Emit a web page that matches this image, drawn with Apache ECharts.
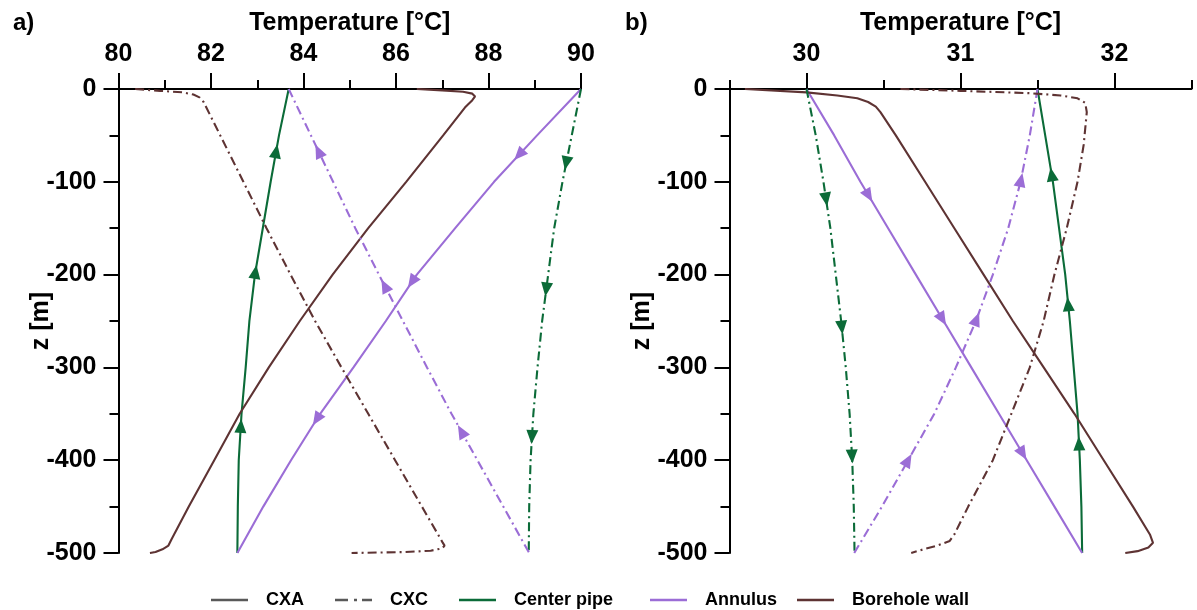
<!DOCTYPE html>
<html><head><meta charset="utf-8">
<script src="https://cdn.jsdelivr.net/npm/echarts@6/dist/echarts.min.js"></script>
<style>html,body{margin:0;padding:0;background:#fff}#c{width:1197px;height:610px}</style>
</head><body><div id="c"></div><script>
// ---------- data ----------
const depthZ = [0,-50,-100,-150,-200,-250,-300,-350,-400,-450,-500];
// Panel a
const aCxaCenterT  = [83.68,83.47,83.29,83.12,82.95,82.83,82.75,82.66,82.60,82.58,82.57];
const aCxaAnnulusT = [90.00,89.05,88.12,87.28,86.45,85.78,85.08,84.36,83.73,83.13,82.57];
const aCxcCenterT  = [90.00,89.80,89.60,89.42,89.29,89.16,89.06,88.97,88.91,88.88,88.87];
const aCxcAnnulusT = [83.68,84.16,84.64,85.12,85.63,86.15,86.67,87.20,87.76,88.32,88.88];
const aCxaWallZ = [0,-1.5,-3,-5,-8,-12,-20,-50,-100,-150,-200,-250,-300,-350,-400,-450,-485,-492,-496,-499,-500];
const aCxaWallT = [86.45,87.0,87.45,87.65,87.71,87.65,87.49,87.02,86.22,85.40,84.63,83.92,83.25,82.62,82.07,81.52,81.15,81.08,80.95,80.80,80.68];
const aCxcWallZ = [0,-2,-3.6,-6,-9,-14,-50,-100,-150,-200,-250,-300,-350,-400,-450,-488,-492,-495,-497.5,-499,-500];
const aCxcWallT = [80.36,80.90,81.38,81.62,81.75,81.84,82.20,82.70,83.20,83.72,84.25,84.82,85.40,85.98,86.56,87.00,87.05,87.00,86.75,86.20,85.04];
// Panel b
const bCxaCenterT  = [31.50,31.55,31.60,31.64,31.68,31.71,31.735,31.76,31.775,31.785,31.79];
const bCxaAnnulusT = [30.00,30.18,30.35,30.53,30.71,30.89,31.07,31.25,31.43,31.61,31.79];
const bCxcCenterT  = [30.00,30.06,30.11,30.155,30.19,30.225,30.255,30.28,30.297,30.307,30.312];
const bCxcAnnulusT = [31.50,31.45,31.39,31.31,31.21,31.10,30.97,30.83,30.66,30.49,30.31];
const bCxaWallZ = [0,-3.6,-7,-10,-14,-19,-25,-50,-100,-150,-200,-250,-300,-350,-400,-450,-480,-489,-494,-498,-500];
const bCxaWallT = [29.60,30.00,30.20,30.33,30.40,30.45,30.48,30.58,30.77,30.96,31.15,31.34,31.54,31.74,31.93,32.12,32.23,32.25,32.22,32.15,32.07];
const bCxcWallZ = [0,-2,-4.5,-7,-10,-15,-25,-60,-100,-150,-200,-250,-300,-350,-400,-450,-480,-487,-492,-496,-500];
const bCxcWallT = [30.61,31.00,31.45,31.65,31.76,31.81,31.82,31.80,31.76,31.69,31.61,31.54,31.45,31.33,31.21,31.05,30.96,30.93,30.85,30.76,30.68];
// arrow depths (flow direction markers)
const aCxaCenterArrows  = [-67,-197,-363];
const aCxaAnnulusArrows = [-71,-208,-356];
const aCxcCenterArrows  = [-80,-216,-375];
const aCxcAnnulusArrows = [-67,-212,-369];
const bCxaCenterArrows  = [-92,-232,-382];
const bCxaAnnulusArrows = [-115,-248,-393];
const bCxcCenterArrows  = [-119,-257,-396];
const bCxcAnnulusArrows = [-98,-248,-400];
// axis ticks
const bTempTicks = [30,31,32];
const legendNames = ['CXA','CXC','Center pipe','Annulus','Borehole wall'];

// ---------- style ----------
const GREEN = '#0b6b38', PURPLE = '#9b6dd6', BROWN = '#5e3333', GRAY = '#595959';
const DASHDOT = [9,4,2,4];
const FONT = 'Liberation Sans, Arial, sans-serif';
const chart = echarts.init(document.getElementById('c'), null, {renderer:'canvas'});

function pairs(T, Z){ return T.map((t,i)=>[t, Z[i]]); }
function interp(T, Z, z){
  for (let i=0;i<Z.length-1;i++){
    if (z<=Z[i] && z>=Z[i+1]){ const f=(Z[i]-z)/(Z[i]-Z[i+1]); return T[i]+f*(T[i+1]-T[i]); }
  }
  return T[T.length-1];
}
const curves = [
  {p:0, T:aCxaCenterT,  Z:depthZ, color:GREEN,  dash:'solid', arrows:aCxaCenterArrows,  up:true},
  {p:0, T:aCxaAnnulusT, Z:depthZ, color:PURPLE, dash:'solid', arrows:aCxaAnnulusArrows, up:false},
  {p:0, T:aCxaWallT,    Z:aCxaWallZ, color:BROWN, dash:'solid'},
  {p:0, T:aCxcCenterT,  Z:depthZ, color:GREEN,  dash:DASHDOT, arrows:aCxcCenterArrows,  up:false},
  {p:0, T:aCxcAnnulusT, Z:depthZ, color:PURPLE, dash:DASHDOT, arrows:aCxcAnnulusArrows, up:true},
  {p:0, T:aCxcWallT,    Z:aCxcWallZ, color:BROWN, dash:DASHDOT},
  {p:1, T:bCxaCenterT,  Z:depthZ, color:GREEN,  dash:'solid', arrows:bCxaCenterArrows,  up:true},
  {p:1, T:bCxaAnnulusT, Z:depthZ, color:PURPLE, dash:'solid', arrows:bCxaAnnulusArrows, up:false},
  {p:1, T:bCxaWallT,    Z:bCxaWallZ, color:BROWN, dash:'solid'},
  {p:1, T:bCxcCenterT,  Z:depthZ, color:GREEN,  dash:DASHDOT, arrows:bCxcCenterArrows,  up:false},
  {p:1, T:bCxcAnnulusT, Z:depthZ, color:PURPLE, dash:DASHDOT, arrows:bCxcAnnulusArrows, up:true},
  {p:1, T:bCxcWallT,    Z:bCxcWallZ, color:BROWN, dash:DASHDOT}
];

const blk = {color:'#000', width:2};
const labelStyle = {fontSize:25, fontWeight:'bold', color:'#000', fontFamily:FONT};
function yAx(g, name, gap){
  return {gridIndex:g, type:'value', min:-500, max:0, interval:100,
    axisLine:{show:true, onZero:false, lineStyle:blk},
    axisTick:{show:true, length:15, lineStyle:blk},
    minorTick:{show:true, splitNumber:2, length:9, lineStyle:blk},
    splitLine:{show:false}, minorSplitLine:{show:false},
    axisLabel:Object.assign({margin:22}, labelStyle),
    name:name, nameLocation:'middle', nameGap:gap, nameRotate:90, nameMoveOverlap:false,
    nameTextStyle:labelStyle};
}
const grids = [
  {left:118.5, top:89, width:462.5, height:464},
  {left:729.5, top:89, width:462, height:464},
  {left:729.5, top:89, width:462, height:464}
];
const xAxes = [
  {gridIndex:0, type:'value', position:'top', min:80, max:90, interval:2,
   axisLine:{onZero:false, lineStyle:blk}, axisTick:{length:16, lineStyle:blk},
   minorTick:{show:true, splitNumber:2, length:9, lineStyle:blk},
   splitLine:{show:false}, minorSplitLine:{show:false},
   axisLabel:Object.assign({margin:22}, labelStyle),
   name:'Temperature [°C]', nameLocation:'middle', nameGap:53, nameMoveOverlap:false, nameTextStyle:labelStyle},
  {gridIndex:1, type:'value', position:'top', min:29.5, max:32.5, interval:0.5,
   axisLine:{onZero:false, lineStyle:blk}, axisTick:{length:9, lineStyle:blk},
   splitLine:{show:false}, axisLabel:{show:false}},
  {gridIndex:2, type:'value', position:'top', min:29.5, max:32.5, interval:0.5,
   axisLine:{show:false, onZero:false}, axisTick:{length:16, lineStyle:blk, customValues:bTempTicks},
   splitLine:{show:false},
   axisLabel:Object.assign({margin:22, customValues:bTempTicks}, labelStyle),
   name:'Temperature [°C]', nameLocation:'middle', nameGap:53, nameMoveOverlap:false, nameTextStyle:labelStyle}
];
const yAxes = [yAx(0,'z [m]',65), yAx(1,'z [m]',75), {gridIndex:2, type:'value', min:-500, max:0, show:false}];

const series = [];
curves.forEach((c,i)=>{
  series.push({type:'line', name:'s'+i, xAxisIndex:c.p, yAxisIndex:c.p, data:pairs(c.T,c.Z),
    symbol:'none', showSymbol:false, smooth:false, silent:true,
    lineStyle:{color:c.color, width:2.1, type:c.dash}, z:2});
});
const legendColors = [GRAY, GRAY, GREEN, PURPLE, BROWN];
const SOLID_ICON = 'path://M0 0h37v2.5H0z';
const DASHDOT_ICON = 'path://M0 0h13v2.5H0zM19 0h3v2.5h-3zM27 0h10v2.5H27z';
const legendIcons = [SOLID_ICON, DASHDOT_ICON, SOLID_ICON, SOLID_ICON, SOLID_ICON];
legendNames.forEach((n,i)=>{
  series.push({type:'line', name:n, xAxisIndex:0, yAxisIndex:0, data:[], symbol:'none',
    itemStyle:{color:legendColors[i]}, lineStyle:{color:legendColors[i], width:2.5}});
});
const legendLeft = [206, 330, 454, 645, 792];
const legends = legendNames.map((n,i)=>({data:[{name:n, icon:legendIcons[i]}], left:legendLeft[i], top:586,
  itemWidth:37, itemHeight:2.5, selectedMode:false,
  textStyle:{fontSize:18, fontWeight:'bold', color:'#000', fontFamily:FONT, padding:[0,0,0,13]}}));

const option = {
  animation:false, backgroundColor:'#fff',
  title:[
    {text:'a)', left:8, top:6, textStyle:{fontSize:24, fontWeight:'bold', color:'#000', fontFamily:FONT}},
    {text:'b)', left:620, top:6, textStyle:{fontSize:24, fontWeight:'bold', color:'#000', fontFamily:FONT}}
  ],
  legend:legends, grid:grids, xAxis:xAxes, yAxis:yAxes, series:series
};
chart.setOption(option);

// flow arrows placed on the curves, rotated along the curve direction
const arrowSeries = [];
curves.forEach((c,i)=>{
  if (!c.arrows) return;
  const data = c.arrows.map(z=>{
    const t = interp(c.T, c.Z, z);
    const pa = chart.convertToPixel({xAxisIndex:c.p, yAxisIndex:c.p}, [interp(c.T,c.Z,z+8), z+8]);
    const pb = chart.convertToPixel({xAxisIndex:c.p, yAxisIndex:c.p}, [interp(c.T,c.Z,z-8), z-8]);
    let dx = pb[0]-pa[0], dy = pb[1]-pa[1];
    if (c.up){ dx=-dx; dy=-dy; }
    const rot = Math.atan2(-dx, -dy)*180/Math.PI;
    return {value:[t, z], symbolRotate:rot};
  });
  arrowSeries.push({type:'scatter', name:'arrow'+i, xAxisIndex:c.p, yAxisIndex:c.p, data:data,
    symbol:'triangle', symbolSize:[12,14], itemStyle:{color:c.color, opacity:1}, silent:true, z:3});
});
chart.setOption({series:series.concat(arrowSeries)});
</script></body></html>
